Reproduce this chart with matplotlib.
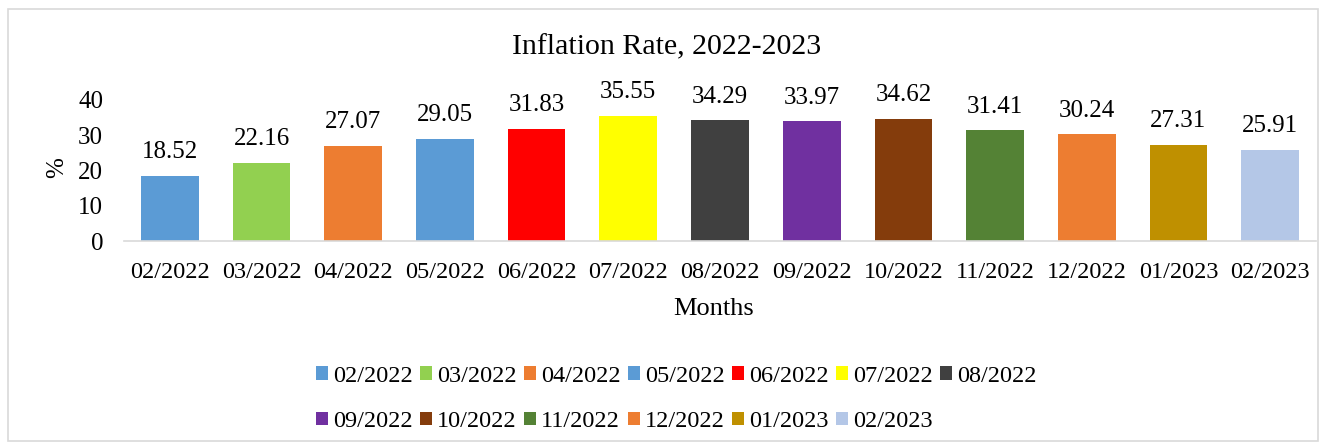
import matplotlib
matplotlib.use("Agg")
import matplotlib.pyplot as plt
from matplotlib.patches import Patch, Rectangle

months = ["02/2022", "03/2022", "04/2022", "05/2022", "06/2022", "07/2022", "08/2022",
          "09/2022", "10/2022", "11/2022", "12/2022", "01/2023", "02/2023"]
rates = [18.52, 22.16, 27.07, 29.05, 31.83, 35.55, 34.29, 33.97, 34.62, 31.41, 30.24, 27.31, 25.91]
colors = ["#5B9BD5", "#92D050", "#ED7D31", "#5B9BD5", "#FF0000", "#FFFF00", "#404040",
          "#7030A0", "#843C0C", "#548235", "#ED7D31", "#BF9000", "#B4C7E7"]
yticks = [0, 10, 20, 30, 40]

plt.rcParams['font.family'] = ['Liberation Serif', 'DejaVu Serif']
fs = 17.5

fig = plt.figure(figsize=(13.21, 4.44), dpi=100)
fig.add_artist(Rectangle((8 / 1321, 3 / 444), 1310 / 1321, 432 / 444, transform=fig.transFigure,
                         fill=False, edgecolor="#d9d9d9", linewidth=1.2))

ax = fig.add_axes([124 / 1321, 1 - 241 / 444, 1192 / 1321, 141 / 444])
x = range(len(months))
bars = ax.bar(x, rates, width=0.63, color=colors)
ax.bar_label(bars, labels=[f"{v:.2f}" for v in rates], padding=9, fontsize=18)

ax.set_xlim(-0.5, len(months) - 0.5)
ax.set_ylim(0, 40)
ax.set_xticks(list(x))
ax.set_xticklabels(months, fontsize=fs)
ax.set_yticks(yticks)
ax.set_yticklabels([str(t) for t in yticks], fontsize=18)
ax.tick_params(axis="both", length=0)
ax.tick_params(axis="y", pad=15)
ax.tick_params(axis="x", pad=15)
for s in ["top", "right", "left"]:
    ax.spines[s].set_visible(False)
ax.spines["bottom"].set_color("#d9d9d9")
ax.spines["bottom"].set_linewidth(1.2)

fig.text(667 / 1321, 1 - 47 / 444, "Inflation Rate, 2022-2023", fontsize=21.5, ha="center", va="center")
fig.text(714 / 1321, 1 - 309 / 444, "Months", fontsize=19, ha="center", va="center")
fig.text(57 / 1321, 1 - 168 / 444, "%", fontsize=18, ha="center", va="center", rotation=90)

handles = [Patch(facecolor=c) for c in colors]
order = [0, 7, 1, 8, 2, 9, 3, 10, 4, 11, 5, 12, 6]
fig.legend([handles[i] for i in order], [months[i] for i in order], ncol=7,
           loc="center", bbox_to_anchor=(676 / 1321, 1 - 399 / 444), frameon=False,
           fontsize=fs, handlelength=0.5, handleheight=0.5, handletextpad=0.2,
           columnspacing=0.3, labelspacing=1.0, borderaxespad=0)

fig.savefig("out.png", dpi=100)
